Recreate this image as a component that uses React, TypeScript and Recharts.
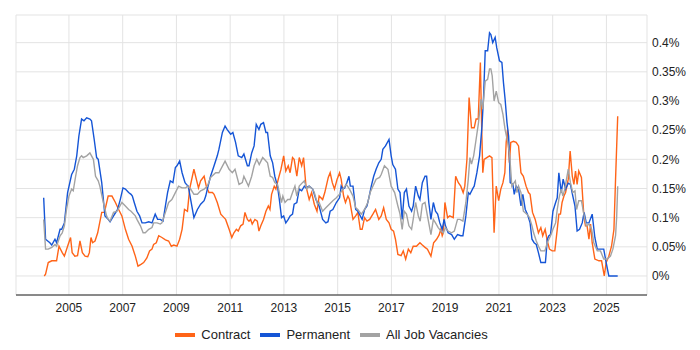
import { LineChart, Line, XAxis, YAxis, CartesianGrid } from 'recharts';

// decimal years / percent of all UK IT job ads
const contractDates = [
  2004.08, 2004.13, 2004.23, 2004.36, 2004.54, 2004.63, 2004.75, 2004.83, 2004.95, 2005.06, 2005.12, 2005.22, 2005.32, 2005.41, 2005.5, 2005.6, 2005.7, 2005.76, 2005.82, 2005.88, 2005.97,
  2006.07, 2006.22, 2006.32, 2006.46, 2006.6, 2006.73, 2006.85, 2006.97, 2007.1, 2007.22, 2007.35, 2007.47, 2007.57, 2007.68, 2007.78, 2007.9, 2008.0, 2008.09, 2008.15, 2008.25, 2008.34,
  2008.46, 2008.59, 2008.71, 2008.81, 2008.9, 2009.02, 2009.12, 2009.21, 2009.3, 2009.41, 2009.49, 2009.65, 2009.74, 2009.82, 2009.9, 2010.03, 2010.11, 2010.21, 2010.34, 2010.4, 2010.52,
  2010.65, 2010.77, 2010.83, 2010.96, 2011.06, 2011.14, 2011.23, 2011.3, 2011.39, 2011.48, 2011.55, 2011.64, 2011.7, 2011.76, 2011.82, 2011.92, 2012.01, 2012.07, 2012.14, 2012.24, 2012.33,
  2012.42, 2012.48, 2012.54, 2012.64, 2012.7, 2012.79, 2012.89, 2012.99, 2013.07, 2013.16, 2013.23, 2013.32, 2013.38, 2013.48, 2013.57, 2013.66, 2013.73, 2013.82, 2013.94, 2014.03, 2014.13,
  2014.23, 2014.31, 2014.44, 2014.52, 2014.65, 2014.72, 2014.8, 2014.88, 2014.98, 2015.07, 2015.13, 2015.22, 2015.29, 2015.38, 2015.44, 2015.57, 2015.67, 2015.75, 2015.84, 2015.91, 2016.0,
  2016.09, 2016.19, 2016.31, 2016.41, 2016.53, 2016.62, 2016.71, 2016.81, 2016.91, 2016.99, 2017.08, 2017.15, 2017.24, 2017.36, 2017.44, 2017.53, 2017.63, 2017.72, 2017.81, 2017.93, 2018.06,
  2018.15, 2018.25, 2018.34, 2018.47, 2018.57, 2018.68, 2018.77, 2018.84, 2018.89, 2018.93, 2018.99, 2019.09, 2019.17, 2019.3, 2019.39, 2019.49, 2019.58, 2019.67, 2019.73, 2019.81, 2019.89,
  2019.98, 2020.08, 2020.15, 2020.23, 2020.31, 2020.36, 2020.4, 2020.45, 2020.55, 2020.65, 2020.74, 2020.82, 2020.9, 2020.99, 2021.07, 2021.15, 2021.22, 2021.27, 2021.32, 2021.39, 2021.44,
  2021.54, 2021.64, 2021.73, 2021.82, 2021.91, 2022.01, 2022.1, 2022.16, 2022.25, 2022.35, 2022.47, 2022.56, 2022.63, 2022.72, 2022.8, 2022.88, 2022.98, 2023.08, 2023.17, 2023.23, 2023.29,
  2023.35, 2023.42, 2023.48, 2023.58, 2023.65, 2023.73, 2023.79, 2023.85, 2023.91, 2023.97, 2024.07, 2024.16, 2024.22, 2024.28, 2024.35, 2024.41, 2024.47, 2024.57, 2024.72, 2024.82, 2024.92,
  2024.99, 2025.09, 2025.19, 2025.28, 2025.34, 2025.42,
];
const contractValues = [
  0, 0.003, 0.023, 0.026, 0.026, 0.051, 0.04, 0.034, 0.051, 0.066, 0.04, 0.034, 0.035, 0.06, 0.04, 0.034, 0.033, 0.04, 0.066, 0.057, 0.06,
  0.074, 0.109, 0.109, 0.137, 0.137, 0.126, 0.114, 0.103, 0.08, 0.063, 0.051, 0.034, 0.017, 0.02, 0.023, 0.031, 0.043, 0.046, 0.054, 0.057, 0.069,
  0.066, 0.062, 0.06, 0.051, 0.053, 0.051, 0.063, 0.08, 0.114, 0.111, 0.149, 0.183, 0.166, 0.151, 0.163, 0.171, 0.154, 0.143, 0.143, 0.14, 0.126,
  0.106, 0.1, 0.097, 0.08, 0.066, 0.074, 0.08, 0.077, 0.086, 0.089, 0.109, 0.097, 0.094, 0.097, 0.089, 0.097, 0.094, 0.077, 0.086, 0.097, 0.111,
  0.12, 0.114, 0.14, 0.154, 0.149, 0.166, 0.183, 0.206, 0.18, 0.189, 0.177, 0.203, 0.2, 0.171, 0.203, 0.189, 0.203, 0.154, 0.131, 0.143, 0.123,
  0.111, 0.137, 0.131, 0.143, 0.169, 0.177, 0.16, 0.149, 0.166, 0.177, 0.166, 0.137, 0.126, 0.137, 0.131, 0.097, 0.103, 0.109, 0.08, 0.08, 0.1,
  0.094, 0.097, 0.106, 0.114, 0.097, 0.103, 0.117, 0.097, 0.091, 0.08, 0.077, 0.063, 0.037, 0.035, 0.043, 0.029, 0.046, 0.04, 0.051, 0.051, 0.057,
  0.053, 0.049, 0.046, 0.034, 0.057, 0.063, 0.07, 0.08, 0.069, 0.074, 0.126, 0.1, 0.103, 0.1, 0.171, 0.16, 0.154, 0.143, 0.154, 0.2, 0.306,
  0.254, 0.254, 0.269, 0.269, 0.366, 0.251, 0.177, 0.2, 0.203, 0.206, 0.203, 0.074, 0.154, 0.129, 0.149, 0.16, 0.177, 0.229, 0.251, 0.194, 0.229,
  0.231, 0.229, 0.223, 0.177, 0.171, 0.154, 0.143, 0.14, 0.109, 0.097, 0.074, 0.083, 0.069, 0.08, 0.06, 0.046, 0.043, 0.043, 0.08, 0.106, 0.106,
  0.126, 0.137, 0.143, 0.166, 0.214, 0.171, 0.157, 0.18, 0.157, 0.18, 0.169, 0.103, 0.086, 0.086, 0.063, 0.089, 0.057, 0.029, 0.026, 0.026, 0,
  0.023, 0.034, 0.051, 0.08, 0.166, 0.274,
];

const permanentDates = [
  2004.06, 2004.13, 2004.29, 2004.36, 2004.48, 2004.54, 2004.67, 2004.73, 2004.83, 2004.95, 2005.1, 2005.2, 2005.29, 2005.37, 2005.47, 2005.56, 2005.66, 2005.78, 2005.84, 2005.94,
  2006.03, 2006.09, 2006.22, 2006.34, 2006.46, 2006.53, 2006.66, 2006.81, 2006.91, 2007.01, 2007.1, 2007.22, 2007.31, 2007.36, 2007.43, 2007.53, 2007.63, 2007.72, 2007.84, 2007.97,
  2008.09, 2008.21, 2008.3, 2008.4, 2008.5, 2008.59, 2008.67, 2008.77, 2008.87, 2008.96, 2009.02, 2009.12, 2009.21, 2009.32, 2009.37, 2009.44, 2009.65, 2009.78, 2009.9, 2010.03,
  2010.09, 2010.15, 2010.27, 2010.4, 2010.52, 2010.58, 2010.71, 2010.81, 2010.89, 2011.02, 2011.1, 2011.2, 2011.3, 2011.43, 2011.51, 2011.64, 2011.7, 2011.8, 2011.89, 2011.97,
  2012.07, 2012.14, 2012.24, 2012.33, 2012.39, 2012.49, 2012.58, 2012.66, 2012.76, 2012.83, 2012.91, 2012.99, 2013.07, 2013.16, 2013.23, 2013.32, 2013.38, 2013.48, 2013.57, 2013.66,
  2013.76, 2013.82, 2013.94, 2014.07, 2014.19, 2014.31, 2014.44, 2014.56, 2014.64, 2014.72, 2014.82, 2014.95, 2015.07, 2015.13, 2015.19, 2015.26, 2015.34, 2015.42, 2015.47, 2015.57,
  2015.67, 2015.75, 2015.84, 2015.91, 2016.0, 2016.09, 2016.16, 2016.25, 2016.34, 2016.43, 2016.53, 2016.62, 2016.68, 2016.78, 2016.91, 2016.99, 2017.05, 2017.15, 2017.24, 2017.32,
  2017.4, 2017.48, 2017.56, 2017.65, 2017.75, 2017.81, 2017.9, 2018.0, 2018.06, 2018.15, 2018.25, 2018.31, 2018.39, 2018.47, 2018.56, 2018.64, 2018.72, 2018.8, 2018.89, 2018.96,
  2019.01, 2019.11, 2019.24, 2019.34, 2019.46, 2019.58, 2019.66, 2019.77, 2019.86, 2019.92, 2020.04, 2020.08, 2020.18, 2020.28, 2020.37, 2020.43, 2020.49, 2020.58, 2020.65, 2020.7,
  2020.77, 2020.86, 2020.92, 2021.02, 2021.11, 2021.17, 2021.23, 2021.3, 2021.36, 2021.39, 2021.42, 2021.52, 2021.57, 2021.64, 2021.73, 2021.82, 2021.89, 2021.98, 2022.06, 2022.16,
  2022.23, 2022.31, 2022.39, 2022.47, 2022.56, 2022.73, 2022.8, 2022.86, 2022.92, 2023.01, 2023.11, 2023.17, 2023.23, 2023.32, 2023.39, 2023.48, 2023.58, 2023.66, 2023.75, 2023.83,
  2023.91, 2024.0, 2024.1, 2024.17, 2024.25, 2024.35, 2024.47, 2024.57, 2024.66, 2024.82, 2024.9, 2024.99, 2025.09, 2025.21, 2025.42,
];
const permanentValues = [
  0.134, 0.063, 0.057, 0.053, 0.063, 0.057, 0.08, 0.08, 0.091, 0.143, 0.174, 0.183, 0.206, 0.24, 0.269, 0.266, 0.271, 0.269, 0.266, 0.234,
  0.203, 0.2, 0.16, 0.103, 0.097, 0.093, 0.103, 0.114, 0.131, 0.151, 0.149, 0.143, 0.14, 0.137, 0.126, 0.111, 0.103, 0.091, 0.091, 0.093,
  0.091, 0.106, 0.097, 0.097, 0.094, 0.12, 0.143, 0.163, 0.16, 0.186, 0.189, 0.197, 0.177, 0.16, 0.157, 0.154, 0.1, 0.114, 0.123, 0.129,
  0.137, 0.149, 0.171, 0.189, 0.206, 0.217, 0.246, 0.257, 0.251, 0.243, 0.246, 0.229, 0.206, 0.203, 0.209, 0.189, 0.189, 0.211, 0.223, 0.26,
  0.251, 0.26, 0.263, 0.246, 0.246, 0.206, 0.194, 0.171, 0.154, 0.131, 0.1, 0.103, 0.091, 0.097, 0.103, 0.106, 0.123, 0.126, 0.149, 0.146,
  0.154, 0.151, 0.154, 0.149, 0.131, 0.12, 0.097, 0.091, 0.093, 0.111, 0.114, 0.126, 0.134, 0.154, 0.149, 0.151, 0.16, 0.171, 0.154, 0.154,
  0.114, 0.111, 0.103, 0.097, 0.114, 0.12, 0.134, 0.154, 0.171, 0.183, 0.194, 0.2, 0.217, 0.223, 0.234, 0.206, 0.191, 0.183, 0.149, 0.143,
  0.097, 0.143, 0.149, 0.12, 0.111, 0.12, 0.154, 0.137, 0.131, 0.16, 0.171, 0.171, 0.126, 0.097, 0.126, 0.111, 0.106, 0.091, 0.08, 0.097,
  0.086, 0.074, 0.071, 0.063, 0.071, 0.069, 0.069, 0.103, 0.143, 0.14, 0.151, 0.154, 0.177, 0.206, 0.257, 0.309, 0.386, 0.386, 0.417, 0.414,
  0.4, 0.409, 0.391, 0.369, 0.366, 0.331, 0.303, 0.263, 0.24, 0.206, 0.16, 0.157, 0.14, 0.154, 0.149, 0.12, 0.14, 0.114, 0.106, 0.091,
  0.063, 0.057, 0.054, 0.04, 0.023, 0.023, 0.063, 0.069, 0.071, 0.111, 0.126, 0.134, 0.177, 0.143, 0.166, 0.149, 0.159, 0.157, 0.137, 0.12,
  0.077, 0.08, 0.091, 0.109, 0.091, 0.091, 0.106, 0.066, 0.046, 0.046, 0.046, 0.023, 0, 0, 0,
];

const allDates = [
  2004.06, 2004.13, 2004.23, 2004.36, 2004.48, 2004.54, 2004.67, 2004.75, 2004.83, 2004.91, 2005.0, 2005.1, 2005.16, 2005.25, 2005.32, 2005.41, 2005.47, 2005.53, 2005.66, 2005.78,
  2005.91, 2005.99, 2006.09, 2006.15, 2006.28, 2006.4, 2006.46, 2006.53, 2006.66, 2006.79, 2006.97, 2007.1, 2007.22, 2007.31, 2007.47, 2007.53, 2007.66, 2007.76, 2007.84, 2007.97,
  2008.09, 2008.15, 2008.28, 2008.4, 2008.46, 2008.59, 2008.71, 2008.83, 2008.96, 2009.08, 2009.21, 2009.34, 2009.41, 2009.53, 2009.65, 2009.78, 2009.9, 2010.03, 2010.15, 2010.27,
  2010.46, 2010.58, 2010.81, 2010.96, 2011.08, 2011.18, 2011.33, 2011.45, 2011.51, 2011.68, 2011.8, 2011.89, 2011.99, 2012.08, 2012.21, 2012.33, 2012.39, 2012.49, 2012.58, 2012.66,
  2012.76, 2012.83, 2012.91, 2012.96, 2013.04, 2013.14, 2013.23, 2013.32, 2013.41, 2013.48, 2013.57, 2013.69, 2013.76, 2013.85, 2013.94, 2014.07, 2014.13, 2014.25, 2014.31, 2014.44,
  2014.56, 2014.69, 2014.82, 2014.95, 2015.07, 2015.19, 2015.32, 2015.44, 2015.57, 2015.67, 2015.75, 2015.88, 2016.0, 2016.12, 2016.21, 2016.31, 2016.43, 2016.56, 2016.62, 2016.74,
  2016.87, 2016.99, 2017.12, 2017.24, 2017.32, 2017.4, 2017.48, 2017.56, 2017.65, 2017.75, 2017.81, 2017.9, 2018.0, 2018.07, 2018.15, 2018.25, 2018.34, 2018.47, 2018.56, 2018.64,
  2018.74, 2018.84, 2018.93, 2019.01, 2019.11, 2019.24, 2019.34, 2019.46, 2019.55, 2019.66, 2019.77, 2019.86, 2019.92, 2019.98, 2020.06, 2020.15, 2020.24, 2020.33, 2020.4, 2020.49,
  2020.58, 2020.65, 2020.7, 2020.75, 2020.82, 2020.9, 2020.99, 2021.07, 2021.15, 2021.23, 2021.32, 2021.39, 2021.42, 2021.48, 2021.61, 2021.67, 2021.73, 2021.82, 2021.91, 2022.04,
  2022.14, 2022.23, 2022.29, 2022.39, 2022.47, 2022.56, 2022.71, 2022.8, 2022.86, 2022.92, 2023.01, 2023.11, 2023.17, 2023.25, 2023.32, 2023.38, 2023.45, 2023.58, 2023.66, 2023.75,
  2023.83, 2023.89, 2023.97, 2024.07, 2024.16, 2024.25, 2024.35, 2024.45, 2024.53, 2024.66, 2024.78, 2024.9, 2025.03, 2025.15, 2025.24, 2025.34, 2025.38, 2025.42,
];
const allValues = [
  0.097, 0.046, 0.046, 0.049, 0.054, 0.051, 0.069, 0.074, 0.086, 0.114, 0.137, 0.149, 0.146, 0.171, 0.189, 0.203, 0.206, 0.203, 0.206, 0.211,
  0.2, 0.171, 0.163, 0.154, 0.126, 0.103, 0.097, 0.094, 0.109, 0.111, 0.126, 0.12, 0.114, 0.111, 0.103, 0.097, 0.086, 0.074, 0.074, 0.08,
  0.083, 0.091, 0.091, 0.089, 0.091, 0.109, 0.126, 0.131, 0.143, 0.154, 0.151, 0.151, 0.154, 0.149, 0.14, 0.14, 0.146, 0.149, 0.154, 0.169,
  0.177, 0.177, 0.197, 0.183, 0.177, 0.183, 0.157, 0.16, 0.171, 0.154, 0.171, 0.189, 0.2, 0.191, 0.203, 0.197, 0.194, 0.171, 0.169, 0.16,
  0.157, 0.143, 0.126, 0.137, 0.126, 0.131, 0.131, 0.143, 0.154, 0.137, 0.154, 0.16, 0.163, 0.149, 0.154, 0.149, 0.143, 0.123, 0.126, 0.111,
  0.117, 0.123, 0.129, 0.134, 0.14, 0.149, 0.157, 0.149, 0.137, 0.117, 0.114, 0.106, 0.114, 0.126, 0.143, 0.154, 0.166, 0.169, 0.174, 0.189,
  0.183, 0.154, 0.143, 0.12, 0.106, 0.08, 0.111, 0.106, 0.086, 0.08, 0.097, 0.126, 0.103, 0.094, 0.123, 0.126, 0.103, 0.071, 0.097, 0.091,
  0.083, 0.077, 0.074, 0.083, 0.077, 0.074, 0.077, 0.097, 0.097, 0.094, 0.126, 0.166, 0.203, 0.192, 0.206, 0.234, 0.263, 0.303, 0.286, 0.334,
  0.337, 0.355, 0.355, 0.343, 0.3, 0.317, 0.297, 0.294, 0.277, 0.251, 0.231, 0.211, 0.194, 0.154, 0.163, 0.143, 0.154, 0.143, 0.111, 0.106,
  0.1, 0.086, 0.074, 0.06, 0.051, 0.043, 0.043, 0.057, 0.063, 0.069, 0.08, 0.091, 0.114, 0.137, 0.149, 0.137, 0.149, 0.183, 0.16, 0.143,
  0.146, 0.114, 0.129, 0.129, 0.106, 0.086, 0.089, 0.08, 0.057, 0.043, 0.043, 0.029, 0.029, 0.034, 0.046, 0.069, 0.1, 0.154,
];

const yearTicks = [2005, 2007, 2009, 2011, 2013, 2015, 2017, 2019, 2021, 2023, 2025];
const pctTicks = [0, 0.05, 0.1, 0.15, 0.2, 0.25, 0.3, 0.35, 0.4];

const toPoints = (dates: number[], values: number[]) => dates.map((t, i) => ({ t, v: values[i] }));

const contractData = toPoints(contractDates, contractValues);
const permanentData = toPoints(permanentDates, permanentValues);
const allData = toPoints(allDates, allValues);

const series = [
  { name: 'Contract', color: '#ff6418', data: contractData },
  { name: 'Permanent', color: '#1555d6', data: permanentData },
  { name: 'All Job Vacancies', color: '#a3a3a3', data: allData },
];

const font = '"Liberation Sans", Arial, sans-serif';

export default function App() {
  return (
    <div style={{ position: 'absolute', left: 0, top: 0, width: 700, height: 350, background: '#fff', fontFamily: font }}>
      <LineChart width={700} height={350} margin={{ top: 15, right: 0, bottom: 25, left: 16 }}>
        <CartesianGrid stroke="#e3e3e3" />
        <XAxis
          dataKey="t"
          type="number"
          domain={[2003.03, 2026.51]}
          ticks={yearTicks}
          allowDataOverflow
          height={30}
          tickLine={false}
          axisLine={{ stroke: '#222' }}
          tick={{ fontSize: 12, fill: '#222', fontFamily: font }}
        />
        <YAxis
          orientation="right"
          type="number"
          domain={[-0.0326, 0.4474]}
          ticks={pctTicks}
          allowDataOverflow
          width={53}
          axisLine={false}
          tickLine={false}
          tickSize={2}
          tickMargin={3}
          tickFormatter={(v: number) => `${v}%`}
          tick={{ fontSize: 12, fill: '#222', fontFamily: font }}
        />
        {series.map((s) => (
          <Line
            key={s.name}
            data={s.data}
            dataKey="v"
            name={s.name}
            type="linear"
            stroke={s.color}
            strokeWidth={1.4}
            dot={false}
            activeDot={false}
            isAnimationActive={false}
          />
        ))}
      </LineChart>
      <div
        style={{
          position: 'absolute',
          left: 16,
          width: 631,
          top: 327,
          display: 'flex',
          justifyContent: 'center',
          gap: 10,
          fontSize: 13,
          color: '#222',
        }}
      >
        {series.map((s) => (
          <div key={s.name} style={{ display: 'flex', alignItems: 'center' }}>
            <span style={{ display: 'inline-block', width: 20, height: 4, background: s.color, marginRight: 6 }} />
            <span>{s.name}</span>
          </div>
        ))}
      </div>
    </div>
  );
}
